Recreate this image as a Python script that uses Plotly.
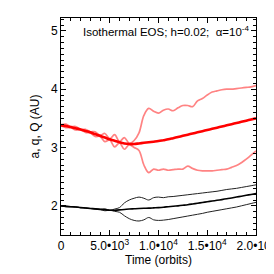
import plotly.graph_objects as go

T = [i * 500 for i in range(41)]

red_a = [3.38, 3.37, 3.35, 3.33, 3.31, 3.285, 3.26, 3.23, 3.20, 3.17, 3.14, 3.115, 3.09, 3.07, 3.06, 3.06,
         3.07, 3.08, 3.09, 3.10, 3.11, 3.125, 3.14, 3.16, 3.18, 3.20, 3.22, 3.24, 3.26, 3.28, 3.30, 3.32,
         3.34, 3.36, 3.38, 3.40, 3.42, 3.44, 3.46, 3.48, 3.50]
red_Q = [3.39, 3.40, 3.36, 3.36, 3.31, 3.31, 3.27, 3.27, 3.21, 3.24, 3.15, 3.22, 3.10, 3.17, 3.07, 3.12,
         3.25, 3.55, 3.67, 3.62, 3.59, 3.64, 3.66, 3.63, 3.68, 3.72, 3.72, 3.70, 3.80, 3.84, 3.90, 3.95,
         3.97, 3.99, 4.00, 4.00, 4.01, 4.02, 4.03, 4.04, 4.06]
red_q = [3.37, 3.34, 3.34, 3.30, 3.31, 3.26, 3.25, 3.19, 3.19, 3.10, 3.13, 3.01, 3.08, 2.97, 3.05, 3.00,
         2.95, 2.70, 2.57, 2.63, 2.61, 2.63, 2.61, 2.62, 2.63, 2.63, 2.68, 2.64, 2.61, 2.60, 2.60, 2.60,
         2.61, 2.62, 2.63, 2.66, 2.69, 2.74, 2.80, 2.87, 2.94]

blk_a = [2.00, 1.99, 1.985, 1.98, 1.97, 1.963, 1.955, 1.948, 1.94, 1.932, 1.925, 1.925, 1.93, 1.937, 1.945,
         1.95, 1.955, 1.958, 1.96, 1.965, 1.97, 1.977, 1.985, 1.992, 2.0, 2.01, 2.02, 2.032, 2.045, 2.057,
         2.07, 2.082, 2.095, 2.107, 2.12, 2.135, 2.15, 2.165, 2.18, 2.195, 2.21]
blk_Q = [2.00, 1.995, 1.985, 1.983, 1.97, 1.967, 1.955, 1.953, 1.94, 1.95, 1.925, 1.945, 1.97, 2.05, 2.10,
         2.13, 2.15, 2.13, 2.10, 2.14, 2.15, 2.14, 2.155, 2.16, 2.17, 2.18, 2.19, 2.20, 2.21, 2.22, 2.23,
         2.24, 2.25, 2.265, 2.28, 2.29, 2.30, 2.315, 2.33, 2.345, 2.36]
blk_q = [2.00, 1.985, 1.985, 1.977, 1.97, 1.96, 1.955, 1.943, 1.94, 1.915, 1.925, 1.905, 1.89, 1.83, 1.78,
         1.75, 1.74, 1.76, 1.80, 1.76, 1.75, 1.755, 1.765, 1.78, 1.795, 1.81, 1.825, 1.84, 1.855, 1.87,
         1.89, 1.905, 1.92, 1.935, 1.95, 1.965, 1.98, 2.00, 2.02, 2.04, 2.06]

x_tickvals = [0, 5000, 10000, 15000, 20000]
x_ticktext = ["0", "5.0•10<sup>3</sup>", "1.0•10<sup>4</sup>", "1.5•10<sup>4</sup>", "2.0•10<sup>4</sup>"]
y_tickvals = [2, 3, 4, 5]

FONT = "Liberation Sans, Arial, sans-serif"

fig = go.Figure()
light = "rgba(255,100,100,0.8)"
for ys in (red_Q, red_q):
    fig.add_trace(go.Scatter(x=T, y=ys, mode="lines", line=dict(color=light, width=1.7, shape="spline"),
                             showlegend=False))
fig.add_trace(go.Scatter(x=T, y=red_a, mode="lines", line=dict(color="#ff0000", width=2.6, shape="spline"),
                         showlegend=False))
for ys in (blk_Q, blk_q):
    fig.add_trace(go.Scatter(x=T, y=ys, mode="lines", line=dict(color="#222222", width=1.0, shape="spline"),
                             showlegend=False))
fig.add_trace(go.Scatter(x=T, y=blk_a, mode="lines", line=dict(color="#000000", width=1.6, shape="spline"),
                         showlegend=False))

axis_common = dict(showline=True, linecolor="black", linewidth=1, mirror="ticks", ticks="inside",
                   ticklen=5, tickcolor="black", showgrid=False, zeroline=False, automargin=False,
                   ticklabeloverflow="allow",
                   tickfont=dict(family=FONT, size=12, color="black"))

fig.update_xaxes(range=[0, 20000], tickvals=x_tickvals, ticktext=x_ticktext,
                 minor=dict(dtick=1000, ticks="inside", ticklen=3, tickcolor="black"),
                 title=dict(text="Time (orbits)", font=dict(family=FONT, size=12, color="black"), standoff=0),
                 **axis_common)
fig.update_yaxes(range=[1.5, 5.22], tickvals=y_tickvals,
                 minor=dict(dtick=0.1, ticks="inside", ticklen=3, tickcolor="black"),
                 title=dict(text="a, q, Q (AU)", font=dict(family=FONT, size=12, color="black"), standoff=8),
                 **axis_common)

fig.add_annotation(x=0.538, y=0.94, xref="paper", yref="paper",
                   text="Isothermal EOS; h=0.02;  α=10<sup>-4</sup>", showarrow=False,
                   font=dict(family=FONT, size=11.5, color="black"), xanchor="center", yanchor="middle")

fig.update_layout(width=266, height=266, margin=dict(l=53, r=18, t=10, b=39),
                  paper_bgcolor="white", plot_bgcolor="white")

fig.write_html("out.html")
